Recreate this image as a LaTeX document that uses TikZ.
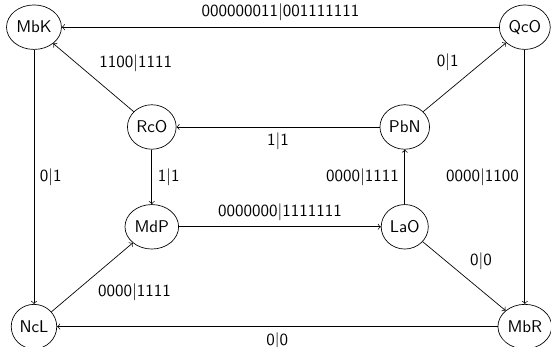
\documentclass[tikz,border=0pt]{standalone}
\usepackage{amsmath}
\usepackage{amssymb}
\usepackage{tikz}
\usetikzlibrary{arrows, automata, shapes}

\begin{document}
\begin{tikzpicture}[->,>=to,auto,thin,font=\sffamily]

  \matrix[overlay, nodes={draw, fill=none, shape=ellipse, inner sep=1pt, minimum height=0.92cm},
          row sep=1.13cm, column sep=1.3cm] {
   \node (mbk) {MbK}; & &[2.85cm] &[0.1cm] \node (qco) {QcO}; \\
   & \node (rco) {RcO}; & \node (pbn) {PbN}; & \\
   & \node (mdp) {MdP}; & \node (lao) {LaO}; & \\
   \node (ncl) {NcL}; & & & \node (mbr) {MbR}; \\
  };

  \useasboundingbox ([xshift=-20pt,yshift=16pt]mbk.center)
    rectangle ([xshift=15.4pt,yshift=-11.8pt]mbr.center);

   \path
    (qco) edge [swap] node {000000011$|$001111111} (mbk)
    (rco) edge [swap] node {1100$|$1111} (mbk)
    (pbn) edge node {0$|$1} (qco)
    (pbn) edge node {1$|$1} (rco)
    (mbk) edge node {0$|$1} (ncl)
    (rco) edge node {1$|$1} (mdp)
    (mdp) edge node {0000000$|$1111111} (lao)
    (lao) edge node {0000$|$1111} (pbn)
    (qco) edge [swap] node {0000$|$1100} (mbr)
    (lao) edge node {0$|$0} (mbr)
    (ncl) edge [swap] node {0000$|$1111} (mdp)
    (mbr) edge node {0$|$0} (ncl);
 \end{tikzpicture}
\end{document}
